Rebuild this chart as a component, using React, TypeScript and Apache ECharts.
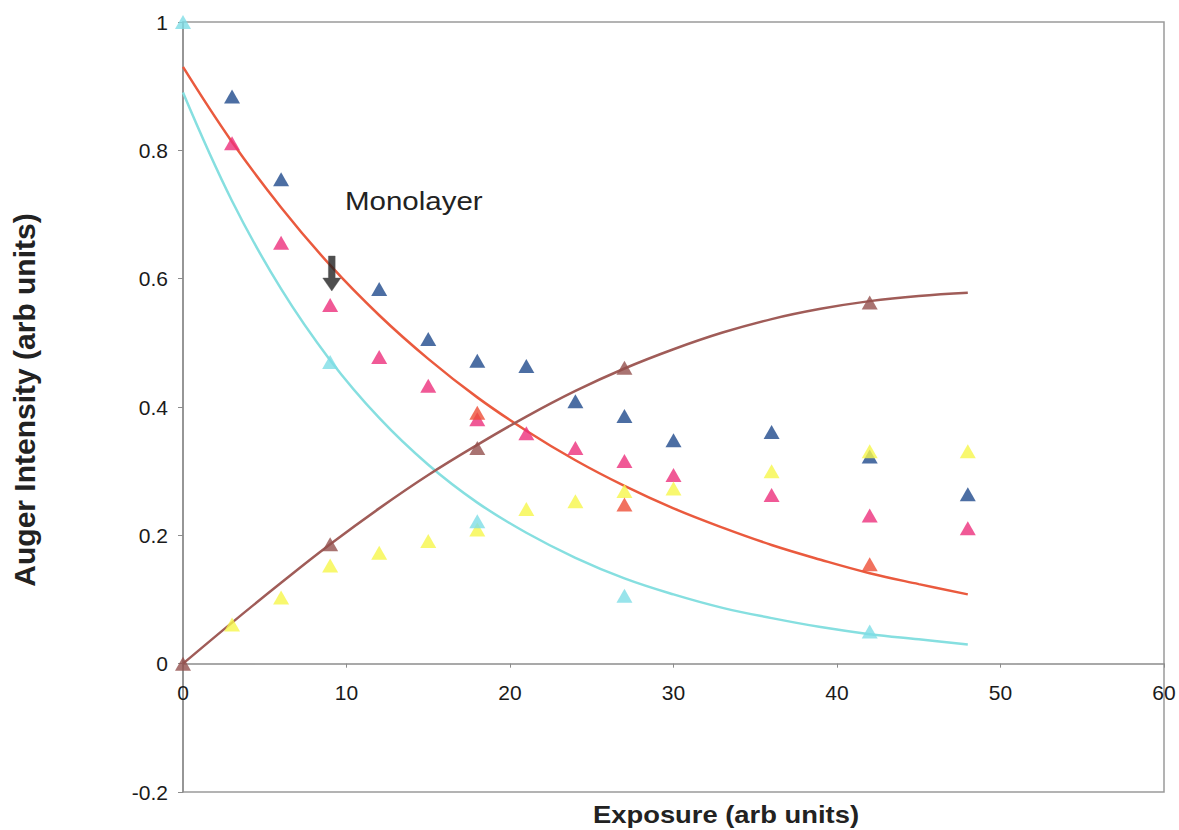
import React, { useEffect, useRef } from "react";
import * as echarts from "echarts";

// ---- data ----
const blueX = [3, 6, 12, 15, 18, 21, 24, 27, 30, 36, 42, 48];
const blueY = [0.884, 0.755, 0.584, 0.506, 0.472, 0.464, 0.409, 0.386, 0.348, 0.361, 0.323, 0.264];

const pinkX = [3, 6, 9, 12, 15, 18, 21, 24, 27, 30, 36, 42, 48];
const pinkY = [0.811, 0.656, 0.559, 0.478, 0.433, 0.381, 0.359, 0.336, 0.316, 0.294, 0.263, 0.231, 0.211];

const yellowX = [3, 6, 9, 12, 15, 18, 21, 24, 27, 30, 36, 42, 48];
const yellowY = [0.061, 0.103, 0.153, 0.173, 0.191, 0.209, 0.241, 0.253, 0.269, 0.273, 0.3, 0.331, 0.331];

const redX = [18, 27, 42];
const redY = [0.391, 0.248, 0.155];

const cyanX = [0, 9, 18, 27, 42];
const cyanY = [1.0, 0.47, 0.222, 0.106, 0.05];

const brownX = [0, 9, 18, 27, 42];
const brownY = [0, 0.186, 0.336, 0.461, 0.563];

// fitted curves
const curveX = [0, 3, 6, 9, 12, 15, 18, 21, 24, 27, 30, 33, 36, 39, 42, 45, 48];
const redCurve = [0.93, 0.813, 0.711, 0.621, 0.543, 0.475, 0.415, 0.363, 0.317, 0.277, 0.242, 0.212, 0.185, 0.162, 0.141, 0.124, 0.108];
const cyanCurve = [0.89, 0.721, 0.584, 0.473, 0.383, 0.31, 0.251, 0.204, 0.165, 0.133, 0.108, 0.087, 0.071, 0.057, 0.046, 0.038, 0.03];
const brownCurve = [0, 0.064, 0.126, 0.186, 0.242, 0.294, 0.341, 0.385, 0.425, 0.46, 0.49, 0.516, 0.537, 0.553, 0.565, 0.573, 0.578];

const arrowAt = [9.1, 0.608];

const xTicks = { min: 0, max: 60, interval: 10 };
const yTicks = { min: -0.2, max: 1, interval: 0.2 };

const pair = (xs: number[], ys: number[]) => xs.map((x, i) => [x, ys[i]]);

const FONT = "Liberation Sans, Arial, Helvetica, sans-serif";

const GRID_TOP = 22;
const GRID_BOTTOM = 38;
const CHART_H = 830;

export default function App() {
  const ref = useRef<HTMLDivElement>(null);
  useEffect(() => {
    if (!ref.current) return;
    const chart = echarts.init(ref.current, undefined, { renderer: "svg" });
    const plotH = CHART_H - GRID_TOP - GRID_BOTTOM;
    // lift the x axis from the grid bottom up to y = 0
    const zeroOffset = -plotH * ((0 - yTicks.min) / (yTicks.max - yTicks.min));
    const tri = (name: string, xs: number[], ys: number[], color: string) => ({
      name,
      type: "scatter",
      symbol: "triangle",
      symbolSize: [16, 14],
      itemStyle: { color },
      data: pair(xs, ys),
      z: 3,
    });
    const curve = (name: string, ys: number[], color: string) => ({
      name,
      type: "line",
      smooth: 0.4,
      showSymbol: false,
      lineStyle: { color, width: 2.5 },
      data: pair(curveX, ys),
      z: 2,
    });
    chart.setOption({
      animation: false,
      backgroundColor: "#ffffff",
      grid: {
        left: 183,
        top: GRID_TOP,
        right: 15,
        bottom: GRID_BOTTOM,
        show: true,
        borderColor: "#9a9a9a",
        borderWidth: 1.5,
        backgroundColor: "transparent",
      },
      xAxis: {
        type: "value",
        position: "bottom",
        offset: zeroOffset,
        min: xTicks.min,
        max: xTicks.max,
        interval: xTicks.interval,
        splitLine: { show: false },
        axisLine: { onZero: false, lineStyle: { color: "#8c8c8c", width: 1.5 } },
        axisTick: { show: true, length: 4, lineStyle: { color: "#8c8c8c" } },
        axisLabel: {
          margin: 18,
          fontSize: 21,
          color: "#1a1a1a",
          fontFamily: FONT,
          showMinLabel: true,
          showMaxLabel: true,
        },
      },
      yAxis: {
        type: "value",
        min: yTicks.min,
        max: yTicks.max,
        interval: yTicks.interval,
        splitLine: { show: false },
        axisLine: { show: true, onZero: false, lineStyle: { color: "#8c8c8c", width: 1.5 } },
        axisTick: { show: true, length: 5, lineStyle: { color: "#8c8c8c" } },
        axisLabel: {
          margin: 15,
          fontSize: 21,
          color: "#1a1a1a",
          fontFamily: FONT,
          formatter: (v: number) => String(Number(v.toFixed(1))),
        },
      },
      graphic: [
        {
          type: "text",
          x: 345,
          y: 201,
          scaleX: 1.18,
          style: {
            text: "Monolayer",
            fontSize: 25,
            fontFamily: FONT,
            fill: "#222",
            textAlign: "left",
            textVerticalAlign: "middle",
          },
        },
        {
          type: "text",
          x: 726,
          y: 815,
          scaleX: 1.19,
          style: {
            text: "Exposure (arb units)",
            fontSize: 23,
            fontWeight: "bold",
            fontFamily: FONT,
            fill: "#222",
            textAlign: "center",
            textVerticalAlign: "middle",
          },
        },
        {
          type: "text",
          x: 24,
          y: 400,
          rotation: Math.PI / 2,
          style: {
            text: "Auger Intensity (arb units)",
            fontSize: 30,
            fontWeight: "bold",
            fontFamily: FONT,
            fill: "#222",
            textAlign: "center",
            textVerticalAlign: "middle",
          },
        },
      ],
      series: [
        curve("Red fit", redCurve, "#ea5a3e"),
        curve("Cyan fit", cyanCurve, "#86dfe0"),
        curve("Brown fit", brownCurve, "#a05c58"),
        tri("Blue", blueX, blueY, "#1f4a8c"),
        tri("Pink", pinkX, pinkY, "#ec2f7c"),
        tri("Yellow", yellowX, yellowY, "#f6f64a"),
        tri("Red", redX, redY, "#ee4e36"),
        tri("Cyan", cyanX, cyanY, "#7edde6"),
        tri("Brown", brownX, brownY, "#93504e"),
        {
          name: "Arrow",
          type: "scatter",
          symbol: "path://M5,0 L11,0 L11,22 L16,22 L8,35 L0,22 L5,22 Z",
          symbolSize: [18, 35],
          itemStyle: { color: "#222", borderColor: "#555", borderWidth: 0.5 },
          data: [arrowAt],
          z: 4,
        },
      ],
    });
    return () => chart.dispose();
  }, []);
  return (
    <div
      ref={ref}
      style={{ position: "fixed", left: 0, top: 0, width: 1179, height: 830, background: "#fff" }}
    />
  );
}
